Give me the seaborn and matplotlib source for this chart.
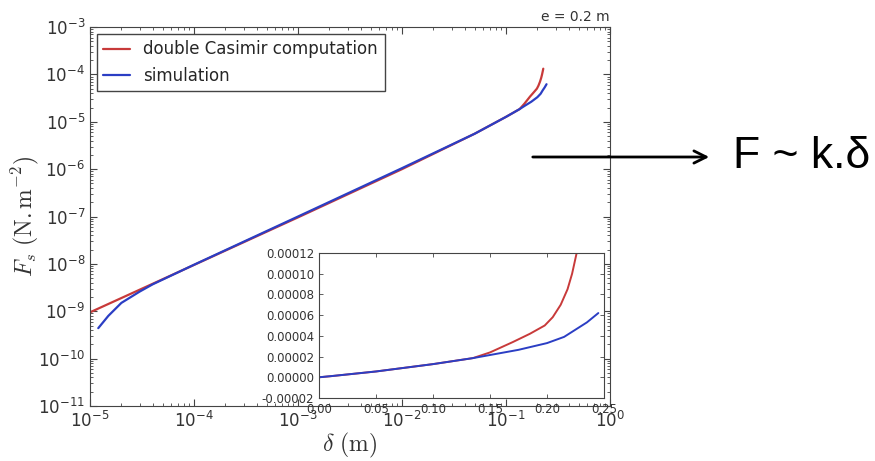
import numpy as np
import pandas as pd
import matplotlib
matplotlib.use("Agg")
import matplotlib.pyplot as plt
import seaborn as sns
from matplotlib.ticker import FormatStrFormatter, MultipleLocator, LogLocator

# double Casimir computation (red)
casimir_delta = [1e-5, 2e-5, 4e-5, 1e-4, 1e-3, 1e-2, 0.05, 0.10, 0.135,
                 0.15, 0.17, 0.185, 0.198, 0.205, 0.212, 0.218, 0.222, 0.226, 0.228]
casimir_force = [9.5e-10, 1.9e-9, 3.8e-9, 9.5e-9, 9.6e-8, 1.0e-6, 5.6e-6, 1.27e-5, 1.85e-5,
                 2.4e-5, 3.4e-5, 4.2e-5, 5.0e-5, 5.8e-5, 7.0e-5, 8.5e-5, 1.0e-4, 1.2e-4, 1.32e-4]

# simulation (blue)
sim_delta = [1.2e-5, 1.5e-5, 2e-5, 3e-5, 4e-5, 1e-4, 1e-3, 1e-2, 0.05, 0.10, 0.135,
             0.15, 0.175, 0.20, 0.215, 0.225, 0.235, 0.245]
sim_force = [4.4e-10, 8.0e-10, 1.5e-9, 2.6e-9, 3.7e-9, 9.6e-9, 1.0e-7, 1.05e-6, 5.6e-6, 1.27e-5, 1.85e-5,
             2.15e-5, 2.65e-5, 3.3e-5, 3.9e-5, 4.6e-5, 5.3e-5, 6.2e-5]

RED = "#c83a3a"
BLUE = "#2b3ec4"

sns.set_style("ticks")
plt.rcParams["font.family"] = ["DejaVu Sans"]
plt.rcParams["xtick.direction"] = "in"
plt.rcParams["ytick.direction"] = "in"
plt.rcParams["xtick.top"] = True
plt.rcParams["ytick.right"] = True
plt.rcParams["axes.edgecolor"] = "#444444"

df_cas = pd.DataFrame({"delta": casimir_delta, "F": casimir_force})
df_sim = pd.DataFrame({"delta": sim_delta, "F": sim_force})

fig = plt.figure(figsize=(8.75, 4.61), dpi=100)
ax = fig.add_axes([0.1029, 0.1193, 0.5943, 0.8221])

sns.lineplot(data=df_cas, x="delta", y="F", ax=ax, color=RED, lw=1.6,
             sort=False, estimator=None, label="double Casimir computation")
sns.lineplot(data=df_sim, x="delta", y="F", ax=ax, color=BLUE, lw=1.6,
             sort=False, estimator=None, label="simulation")
ax.set_xscale("log")
ax.set_yscale("log")
ax.set_xlim(1e-5, 1e0)
ax.set_ylim(1e-11, 1e-3)
ax.yaxis.set_major_locator(LogLocator(base=10, numticks=20))
ax.yaxis.set_minor_locator(LogLocator(base=10, subs=np.arange(2, 10), numticks=20))
ax.tick_params(which="major", length=5, width=0.8, labelsize=12, colors="#444444",
               labelcolor="#333333")
ax.tick_params(which="minor", length=2.5, width=0.6, colors="#444444")
ax.set_xlabel(r"$\delta\ (\mathrm{m})$", fontsize=17, math_fontfamily="cm",
              color="#333333", labelpad=0)
ax.set_ylabel(r"$F_s\ (\mathrm{N{.}m^{-2}})$", fontsize=17, math_fontfamily="cm",
              color="#333333", labelpad=-2)
ax.set_title("e = 0.2 m", loc="right", fontsize=10, color="#333333", pad=4)
leg = ax.legend(loc="upper left", fontsize=12, fancybox=False, framealpha=1,
                edgecolor="#444444", handlelength=1.6, borderaxespad=0.4)
leg.get_frame().set_linewidth(1.0)

# inset (linear scale)
axin = fig.add_axes([0.3646, 0.1367, 0.3257, 0.3145])
sns.lineplot(data=df_cas, x="delta", y="F", ax=axin, color=RED, lw=1.4,
             sort=False, estimator=None, legend=False)
sns.lineplot(data=df_sim, x="delta", y="F", ax=axin, color=BLUE, lw=1.4,
             sort=False, estimator=None, legend=False)
axin.set_xlim(0, 0.25)
axin.set_ylim(-0.00002, 0.00012)
axin.xaxis.set_major_locator(MultipleLocator(0.05))
axin.yaxis.set_major_locator(MultipleLocator(0.00002))
axin.xaxis.set_major_formatter(FormatStrFormatter("%.2f"))
axin.yaxis.set_major_formatter(FormatStrFormatter("%.5f"))
axin.tick_params(length=3, width=0.6, labelsize=8.5, colors="#444444", labelcolor="#333333")
axin.set_xlabel("")
axin.set_ylabel("")

# arrow + annotation on the right
ax.annotate("", xy=(712 / 875, 1 - 157 / 461), xytext=(530 / 875, 1 - 157 / 461),
            xycoords="figure fraction", textcoords="figure fraction",
            arrowprops=dict(arrowstyle="->", lw=2, color="black", mutation_scale=22),
            annotation_clip=False)
fig.text(733 / 875, 1 - 157 / 461, "F ~ k.δ", fontsize=32, va="center", ha="left",
         color="black", family=["Liberation Sans", "DejaVu Sans"])

plt.savefig("out.png", dpi=100)
plt.close()
